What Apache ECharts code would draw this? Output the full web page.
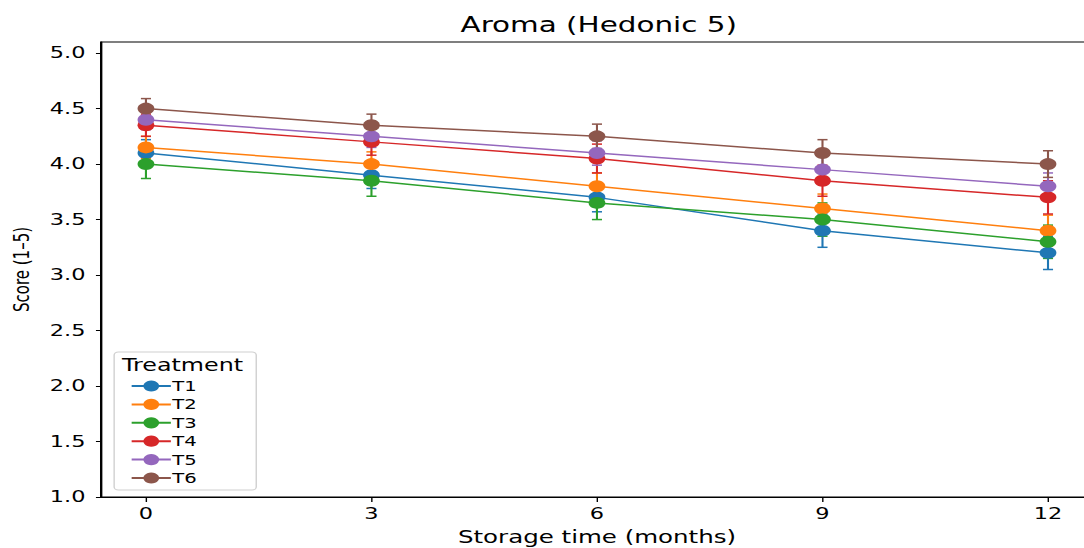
<!DOCTYPE html>
<html>
<head>
<meta charset="utf-8">
<script src="https://cdn.jsdelivr.net/npm/echarts@6/dist/echarts.min.js"></script>
<style>
html,body{margin:0;padding:0;background:#fff;overflow:hidden;}
/* the reference figure is stretched sideways, so draw narrow and widen it */
#chart{width:774px;height:548px;transform:scaleX(1.40052);transform-origin:0 0;}
</style>
</head>
<body>
<div id="chart"></div>
<script>
var months = [0, 3, 6, 9, 12];
var yTicks = [1.0, 1.5, 2.0, 2.5, 3.0, 3.5, 4.0, 4.5, 5.0];
var names = ['T1', 'T2', 'T3', 'T4', 'T5', 'T6'];
var colors = ['#1f77b4', '#ff7f0e', '#2ca02c', '#d62728', '#9467bd', '#8c564b'];

var T1 = [4.10, 3.90, 3.70, 3.40, 3.20];
var T2 = [4.15, 4.00, 3.80, 3.60, 3.40];
var T3 = [4.00, 3.85, 3.65, 3.50, 3.30];
var T4 = [4.35, 4.20, 4.05, 3.85, 3.70];
var T5 = [4.40, 4.25, 4.10, 3.95, 3.80];
var T6 = [4.50, 4.35, 4.25, 4.10, 4.00];

var T1err = [0.12, 0.12, 0.13, 0.15, 0.15];
var T2err = [0.10, 0.11, 0.12, 0.13, 0.14];
var T3err = [0.13, 0.14, 0.15, 0.15, 0.15];
var T4err = [0.10, 0.12, 0.13, 0.14, 0.15];
var T5err = [0.09, 0.10, 0.11, 0.12, 0.12];
var T6err = [0.09, 0.10, 0.11, 0.12, 0.12];

var means = [T1, T2, T3, T4, T5, T6];
var errs = [T1err, T2err, T3err, T4err, T5err, T6err];

var font = 'DejaVu Sans';
var chart = echarts.init(document.getElementById('chart'), null, { renderer: 'svg' });

function errRender(params, api) {
    var x = api.value(0);
    var lo = api.coord([x, api.value(1)]);
    var hi = api.coord([x, api.value(2)]);
    var c = api.visual('color');
    var cap = 3.6;
    var st = { stroke: c, lineWidth: 1.5 };
    return {
        type: 'group',
        children: [
            { type: 'line', shape: { x1: lo[0], y1: lo[1], x2: hi[0], y2: hi[1] }, style: st },
            { type: 'line', shape: { x1: lo[0] - cap, y1: lo[1], x2: lo[0] + cap, y2: lo[1] }, style: st },
            { type: 'line', shape: { x1: hi[0] - cap, y1: hi[1], x2: hi[0] + cap, y2: hi[1] }, style: st }
        ]
    };
}

var series = [];
names.forEach(function (n, i) {
    var errData = months.map(function (m, k) {
        return [m, means[i][k] - errs[i][k], means[i][k] + errs[i][k]];
    });
    series.push({
        name: n + ' err',
        type: 'custom',
        renderItem: errRender,
        itemStyle: { color: colors[i] },
        data: errData,
        encode: { x: 0, y: [1, 2] },
        silent: true
    });
    series.push({
        name: n,
        type: 'line',
        data: months.map(function (m, k) { return [m, means[i][k]]; }),
        symbol: 'circle',
        symbolSize: 12,
        showSymbol: true,
        color: colors[i],
        lineStyle: { width: 1.5, color: colors[i] },
        itemStyle: { color: colors[i] },
        emphasis: { disabled: true }
    });
});

var option = {
    backgroundColor: '#fff',
    animation: false,
    title: {
        text: 'Aroma (Hedonic 5)',
        left: 422.5,
        textAlign: 'center',
        top: 9,
        textStyle: { fontFamily: font, fontSize: 21, fontWeight: 'normal', color: '#000' }
    },
    grid: {
        left: 72, right: -6.5, top: 42, bottom: 51,
        outerBoundsMode: 'none',
        show: true, borderColor: '#000', borderWidth: 1.2, backgroundColor: 'transparent'
    },
    legend: {
        data: names,
        orient: 'vertical',
        left: 81.5,
        top: 352,
        padding: [27, 42.5, 5, 11.5],
        backgroundColor: '#fff',
        borderColor: '#d0d0d0',
        borderWidth: 1,
        borderRadius: 3,
        itemWidth: 28,
        itemHeight: 14,
        itemGap: 4.4,
        textStyle: { fontFamily: font, fontSize: 14, color: '#000', padding: [0, 0, 0, -4] }
    },
    graphic: [{
        type: 'text',
        left: 87.1,
        top: 357,
        z: 100,
        style: { text: 'Treatment', font: '17px "DejaVu Sans"', fill: '#000' }
    }],
    xAxis: {
        type: 'value',
        min: -0.6,
        max: 12.6,
        name: 'Storage time (months)',
        nameLocation: 'middle',
        nameGap: 31,
        nameTextStyle: { fontFamily: font, fontSize: 17.5, color: '#000' },
        axisLine: { show: true, onZero: false, lineStyle: { color: '#000', width: 1.2 } },
        axisTick: { show: true, length: 5, lineStyle: { color: '#000' }, customValues: months },
        axisLabel: { fontFamily: font, fontSize: 16, color: '#000', margin: 9, customValues: months },
        splitLine: { show: false }
    },
    yAxis: {
        type: 'value',
        min: 1.0,
        max: 5.1,
        name: 'Score (1–5)',
        nameLocation: 'middle',
        nameGap: 49,
        nameTextStyle: { fontFamily: font, fontSize: 15, color: '#000' },
        axisLine: { show: true, onZero: false, lineStyle: { color: '#000', width: 1.2 } },
        axisTick: { show: true, length: 3.5, lineStyle: { color: '#000' }, customValues: yTicks },
        axisLabel: {
            fontFamily: font, fontSize: 16, color: '#000', margin: 11,
            customValues: yTicks,
            formatter: function (v) { return v.toFixed(1); }
        },
        splitLine: { show: false }
    },
    series: series
};
chart.setOption(option);
</script>
</body>
</html>
